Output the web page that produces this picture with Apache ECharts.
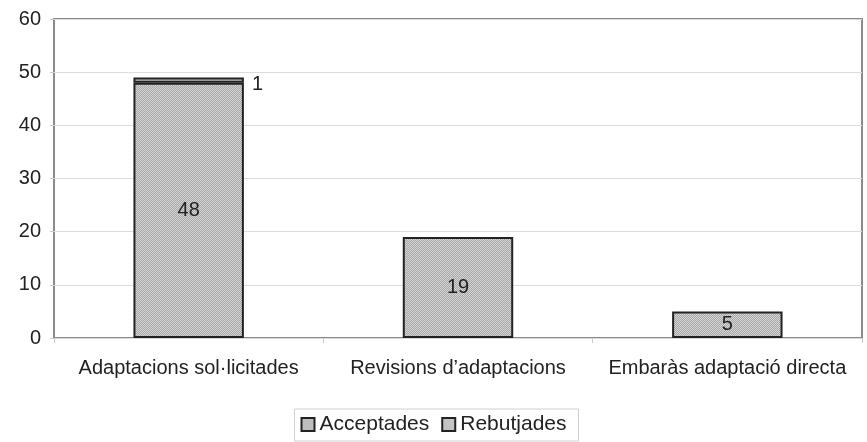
<!DOCTYPE html>
<html>
<head>
<meta charset="utf-8">
<script src="https://cdn.jsdelivr.net/npm/echarts@6/dist/echarts.min.js"></script>
<style>
  html, body { margin: 0; padding: 0; background: #fff; }
  #main { width: 867px; height: 442px; }
</style>
</head>
<body>
<div id="main"></div>
<script type="text/javascript">
    var categories = ['Adaptacions sol\u00b7licitades', 'Revisions d\u2019adaptacions', 'Embar\u00e0s adaptaci\u00f3 directa'];
    var acceptades = [48, 19, 5];
    var rebutjades = [1, 0, 0];

    // fine dotted fill like the original print
    var cv = document.createElement('canvas');
    cv.width = 2; cv.height = 2;
    var cx = cv.getContext('2d');
    cx.fillStyle = '#a6a6a6';
    cx.fillRect(0, 0, 2, 2);
    cx.fillStyle = '#d6d6d6';
    cx.fillRect(0, 0, 1, 1);
    cx.fillRect(1, 1, 1, 1);

    var font = 'Liberation Sans, Arial, sans-serif';
    var myChart = echarts.init(document.getElementById('main'));
    var option = {
        animation: false,
        grid: {
            left: 54, top: 19, right: 5, bottom: 104,
            show: true, borderColor: '#8a8a8a', borderWidth: 2
        },
        legend: {
            data: ['Acceptades', 'Rebutjades'],
            top: 409,
            left: 'center',
            icon: 'rect',
            itemWidth: 13,
            itemHeight: 13,
            itemGap: 12,
            padding: [5, 12, 6, 6],
            borderColor: '#d0d0d0',
            borderWidth: 1,
            textStyle: { fontFamily: font, fontSize: 21, color: '#222' }
        },
        xAxis: {
            type: 'category',
            data: categories,
            axisLine: { show: false },
            axisTick: { show: true, length: 5, lineStyle: { color: '#c8c8c8' } },
            axisLabel: { interval: 0, fontFamily: font, fontSize: 20, color: '#222', margin: 20 }
        },
        yAxis: {
            type: 'value',
            min: 0, max: 60, interval: 10,
            axisLine: { show: false },
            axisTick: { show: true, length: 4, lineStyle: { color: '#c8c8c8' } },
            splitLine: { lineStyle: { color: '#dcdcdc' } },
            axisLabel: { fontFamily: font, fontSize: 20, color: '#222', margin: 13 }
        },
        series: [
            {
                name: 'Acceptades',
                type: 'bar',
                stack: 'total',
                barWidth: '41%',
                data: acceptades,
                itemStyle: { color: { image: cv, repeat: 'repeat' }, borderColor: '#222', borderWidth: 2 },
                label: { show: true, position: 'inside', fontFamily: font, fontSize: 20, color: '#222' }
            },
            {
                name: 'Rebutjades',
                type: 'bar',
                stack: 'total',
                // zero segments are not drawn at all
                data: rebutjades.map(function (v) { return v ? v : '-'; }),
                itemStyle: { color: '#c4c4c4', borderColor: '#222', borderWidth: 2 },
                label: {
                    show: true, position: 'right', distance: 8, offset: [0, 4],
                    fontFamily: font, fontSize: 20, color: '#222'
                }
            }
        ]
    };
    myChart.setOption(option);
</script>
</body>
</html>
